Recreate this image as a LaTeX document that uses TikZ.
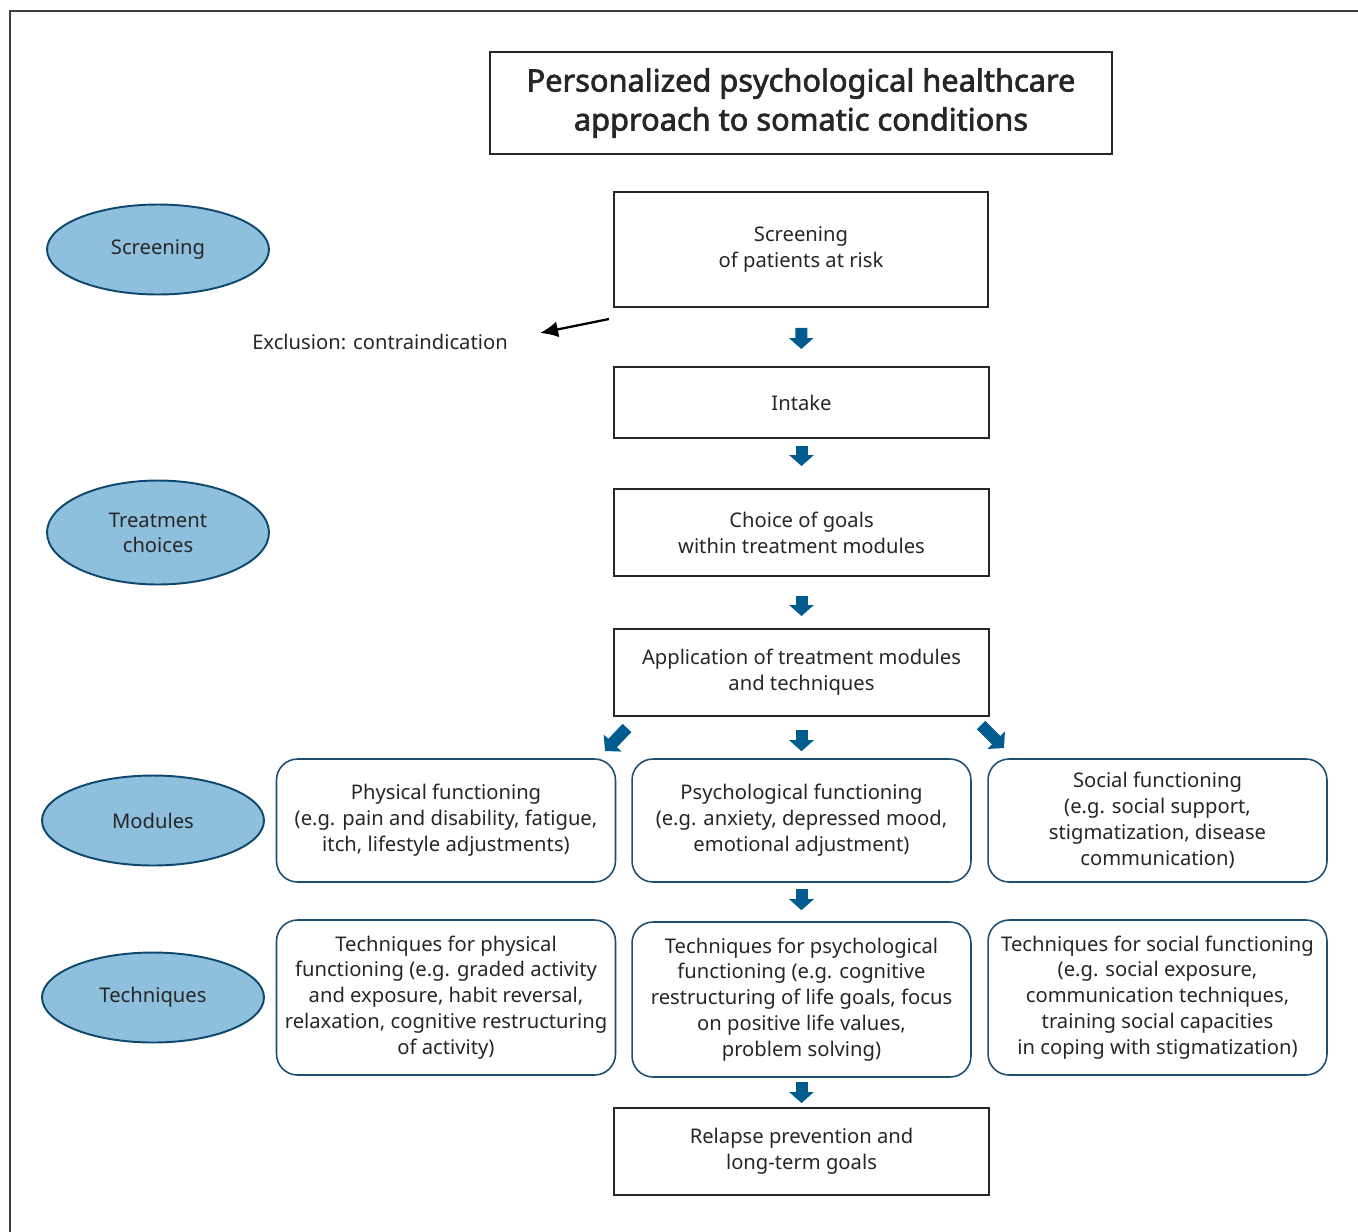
\documentclass[tikz,border=0pt]{standalone}
\usepackage{fontspec}
\setmainfont{Noto Sans}
\newfontfamily\titlefont{Noto Sans}[FakeBold=2.2]
\usetikzlibrary{arrows.meta,positioning,shapes.geometric}
\definecolor{arrblue}{RGB}{0,91,143}
\definecolor{ellfill}{RGB}{142,191,221}
\definecolor{elldraw}{RGB}{14,72,108}
\definecolor{rbdraw}{RGB}{30,78,114}
\tikzset{
  stepbox/.style={rectangle,draw=black!85,line width=1.1pt,align=center,
             font=\fontsize{11.5}{14.7}\selectfont,text=black!85},
  modbox/.style={rectangle,rounded corners=0.42cm,draw=rbdraw,line width=0.9pt,
             align=center,minimum width=6.78cm,font=\fontsize{11.5}{14.7}\selectfont,text=black!85},
  lvl/.style={ellipse,draw=elldraw,fill=ellfill,line width=1.1pt,minimum width=4.44cm,
             align=center,font=\fontsize{11.5}{14.3}\selectfont,text=black!85},
  blk/.style={arrblue,line width=0.24cm,-{Triangle[width=0.48cm,length=0.22cm]}},
  every picture/.style={line cap=butt,line join=miter}}

\begin{document}
\begin{tikzpicture}[x=0.02cm,y=-0.02cm]
  \useasboundingbox (0,0) rectangle (1358,1231);
  \draw[black!75,line width=1.2pt] (10,1240)--(10,11)--(1370,11);
  % title and main column
  \node[stepbox,minimum width=12.44cm,minimum height=2.04cm,font=\titlefont\fontsize{17.5}{22.2}\selectfont] (title) at (801,103)
    {Personalized psychological healthcare\\approach to somatic conditions};
  \node[stepbox,minimum width=7.48cm,minimum height=2.3cm] (scr) at (801,249.5) {Screening\\of patients at risk};
  \node[stepbox,minimum width=7.5cm,minimum height=1.42cm] (intake) at (801.5,402.5) {Intake};
  \node[stepbox,minimum width=7.5cm,minimum height=1.74cm] (goals) at (801.5,532.5) {Choice of goals\\within treatment modules};
  \node[stepbox,minimum width=7.5cm,minimum height=1.74cm] (appl) at (801.5,672.5) {Application of treatment modules\\and techniques};
  \node[stepbox,minimum width=7.5cm,minimum height=1.74cm] (relapse) at (801.5,1151.5) {Relapse prevention and\\long-term goals};
  % modules and techniques
  \node[modbox,minimum height=2.46cm] (phys) at (446,820.5) {Physical functioning\\(e.g. pain and disability, fatigue,\\itch, lifestyle adjustments)};
  \node[modbox,minimum height=2.46cm] (psy) at (801.5,820.5) {Psychological functioning\\(e.g. anxiety, depressed mood,\\emotional adjustment)};
  \node[modbox,minimum height=2.46cm] (soc) at (1157.5,820.5) {Social functioning\\(e.g. social support,\\stigmatization, disease\\communication)};
  \node[modbox,minimum height=3.1cm] (tphys) at (446,997.5) {Techniques for physical\\functioning (e.g. graded activity\\and exposure, habit reversal,\\relaxation, cognitive restructuring\\of activity)};
  \node[modbox,minimum height=3.1cm] (tpsy) at (801.5,999.5) {Techniques for psychological\\functioning (e.g. cognitive\\restructuring of life goals, focus\\on positive life values,\\problem solving)};
  \node[modbox,minimum height=3.1cm] (tsoc) at (1157.5,997.5) {Techniques for social functioning\\(e.g. social exposure,\\communication techniques,\\training social capacities\\in coping with stigmatization)};
  % levels on the left
  \node[lvl,minimum height=1.8cm] (lscr) at (158,249.5) {Screening};
  \node[lvl,minimum height=2.08cm] (ltrt) at (158,532.5) {Treatment\\choices};
  \node[lvl,minimum height=1.8cm] (lmod) at (153,820.5) {Modules};
  \node[lvl,minimum height=1.8cm] (ltec) at (153,997.5) {Techniques};
  % exclusion
  \node[font=\fontsize{11.5}{14.7}\selectfont,text=black!85] (excl) at (380,342) {Exclusion: contraindication};
  \coordinate (exA) at (609,319); \coordinate (exB) at (540,333);
  \draw[line width=1.3pt,-{Latex[length=0.36cm,width=0.32cm]}] (exA)--(exB);
  % block arrows
  \draw[blk,shorten <=0.4cm,shorten >=0.34cm] (scr)--(intake);
  \draw[blk,shorten <=0.14cm,shorten >=0.44cm] (intake)--(goals);
  \draw[blk,shorten <=0.38cm,shorten >=0.24cm] (goals)--(appl);
  \draw[blk,shorten <=0.26cm,shorten >=0.14cm] (appl)--(psy);
  \draw[blk,shorten <=0.12cm,shorten >=0.22cm] (psy)--(tpsy);
  \draw[blk,shorten <=0.08cm,shorten >=0.08cm] (tpsy)--(relapse);
  \coordinate (dlA) at (627,728); \coordinate (dlB) at (605,751);
  \coordinate (drA) at (981,725); \coordinate (drB) at (1004,748);
  \draw[blk] (dlA)--(dlB); \draw[blk] (drA)--(drB);
\end{tikzpicture}
\end{document}
